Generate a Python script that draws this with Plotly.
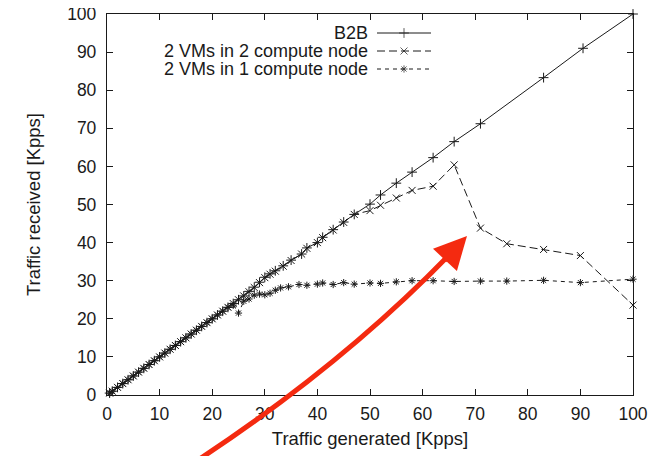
import plotly.graph_objects as go

# ---------------- data ----------------
b2b_x = [0.5, 1, 2, 3, 4, 5, 6, 7, 8, 9, 10, 11, 12, 13, 14, 15, 16, 17, 18, 19, 20,
         21, 22, 23, 24, 25, 26, 27, 28, 29, 30, 31, 32, 33.5, 35, 37, 38, 40, 41, 43,
         45, 47, 50, 52, 55, 58, 62, 66, 71, 83, 90.5, 100]
b2b_y = [0.5, 1, 2, 3, 4, 5, 6, 7, 8, 9, 10, 11, 12, 13, 14, 15, 16, 17, 18, 19, 20,
         21, 22, 23, 24, 25, 26, 27.2, 28.3, 29.6, 30.9, 31.8, 32.6, 33.9, 35.4, 37, 38.6,
         40, 41.4, 43.4, 45.4, 47.4, 50.1, 52.5, 55.6, 58.5, 62.3, 66.5, 71.2, 83.3, 91, 100]

two_node_x = [0.5, 1, 2, 3, 4, 5, 6, 7, 8, 9, 10, 11, 12, 13, 14, 15, 16, 17, 18, 19, 20,
              21, 22, 23, 24, 25, 26, 27, 28, 29, 30, 31, 32, 33.5, 35, 37, 38, 40, 41, 43,
              45, 47, 50, 52, 55, 58, 62, 66, 71, 76, 83, 90, 100]
two_node_y = [0.5, 1, 2, 3, 4, 5, 6, 7, 8, 9, 10, 11, 12, 13, 14, 15, 16, 17, 18, 19, 20,
              21, 22, 23, 24, 25, 26, 27.1, 28.2, 29.5, 30.8, 31.7, 32.5, 33.8, 35.3, 37, 38.5,
              40, 41.3, 43.3, 45.3, 47.4, 48.4, 49.8, 51.7, 53.7, 54.8, 60.4, 43.8, 39.7,
              38.2, 36.6, 23.6]

one_node_x = [0.5, 1, 2, 3, 4, 5, 6, 7, 8, 9, 10, 11, 12, 13, 14, 15, 16, 17, 18, 19, 20,
              21, 22, 23, 24, 25, 26, 27, 28, 29, 30, 31, 32, 33, 34.5, 36.5, 38, 40, 41,
              43, 45, 47, 50, 52, 55, 58, 62, 66, 71, 76, 83, 90, 100]
one_node_y = [0.5, 1, 2, 3, 4, 5, 6, 7, 8, 9, 10, 11, 12, 13, 14, 15, 16, 17, 18, 19, 20,
              21, 22, 23, 23.6, 21.5, 24.6, 25.2, 26.2, 26.5, 26.3, 26.7, 27.5, 28.1, 28.4,
              29.0, 28.8, 29.1, 29.4, 29.0, 29.5, 29.1, 29.4, 29.3, 29.7, 30.0, 30.0, 29.8,
              29.9, 29.9, 30.1, 29.5, 30.4]

series_names = ["B2B", "2 VMs in 2 compute node", "2 VMs in 1 compute node"]
axis_ticks = [0, 10, 20, 30, 40, 50, 60, 70, 80, 90, 100]

# ---------------- style ----------------
FONT = "Liberation Sans, Arial, sans-serif"
INK = "#1a1a1a"
OFF = 8                                  # page body margin of the html page
L, R, T, B = 107, 633, 14, 395           # plot area in screen pixels
W, H = 666 - OFF, 456 - OFF              # figure size so it fits the window

styles = [
    dict(dash="solid", symbol="cross-thin", size=7),
    dict(dash="8px,4px", symbol="x-thin", size=7),
    dict(dash="4px,4px", symbol="asterisk", size=6),
]

fig = go.Figure()
for (xs, ys), name, st in zip([(b2b_x, b2b_y), (two_node_x, two_node_y), (one_node_x, one_node_y)],
                              series_names, styles):
    fig.add_trace(go.Scatter(
        x=xs, y=ys, name=name, mode="lines+markers", showlegend=False,
        line=dict(color=INK, width=1, dash=st["dash"]),
        marker=dict(symbol=st["symbol"], size=st["size"], color=INK,
                    line=dict(color=INK, width=1)),
        cliponaxis=False,
    ))

# custom gnuplot-like key (text on the left, sample on the right), pixel axes
key_rows = [33, 51, 69]
key_text_right = 369
key_sample = [377, 404, 431]
for row, name, st in zip(key_rows, series_names, styles):
    fig.add_trace(go.Scatter(
        x=key_sample, y=[row] * 3, xaxis="x2", yaxis="y2", mode="lines+markers",
        showlegend=False, hoverinfo="skip",
        line=dict(color=INK, width=1, dash=st["dash"]),
        marker=dict(symbol=st["symbol"], size=[0, st["size"], 0], color=INK,
                    line=dict(color=INK, width=1)),
    ))
    fig.add_annotation(x=key_text_right, y=row, xref="x2", yref="y2", text=name,
                       showarrow=False, xanchor="right", yanchor="middle",
                       font=dict(family=FONT, size=18, color=INK), borderpad=0)


def px(xp):
    return (xp - L) / (R - L)


def py(yp):
    return (B - yp) / (B - T)


# red curved arrow (overlay annotation)
RED = "#f42a10"
p0 = (195, 462)
c1 = (343, 365)
p2 = (453, 251)
tip = (467, 236)
fig.add_shape(type="path", xref="paper", yref="paper",
              path=f"M {px(p0[0])},{py(p0[1])} Q {px(c1[0])},{py(c1[1])} {px(p2[0])},{py(p2[1])}",
              line=dict(color=RED, width=5))
fig.add_annotation(x=px(tip[0]), y=py(tip[1]), xref="paper", yref="paper",
                   ax=-24, ay=26, axref="pixel", ayref="pixel", text="",
                   showarrow=True, arrowhead=2, arrowsize=1.3, arrowwidth=5,
                   arrowcolor=RED, standoff=0)

axis_common = dict(
    range=[0, 100], tickmode="array", tickvals=axis_ticks,
    ticktext=[str(t) for t in axis_ticks], automargin=False,
    ticklabeloverflow="allow",
    showgrid=False, zeroline=False, showline=True, linecolor=INK, linewidth=1.3,
    mirror="allticks", ticks="inside", ticklen=6, tickwidth=1, tickcolor=INK,
    tickfont=dict(family=FONT, size=17.5, color=INK),
)

fig.update_layout(
    width=W, height=H, autosize=False,
    margin=dict(l=L - OFF, r=W - (R - OFF), t=T - OFF, b=H - (B - OFF), pad=0,
                autoexpand=False),
    paper_bgcolor="white", plot_bgcolor="white",
    showlegend=False,
    xaxis=dict(axis_common, ticklabelstandoff=3,
               title=dict(text="Traffic generated [Kpps]", standoff=8,
                          font=dict(family=FONT, size=18.5, color=INK))),
    yaxis=dict(axis_common, ticklabelstandoff=6,
               title=dict(text="Traffic received [Kpps]", standoff=21,
                          font=dict(family=FONT, size=18.5, color=INK))),
    xaxis2=dict(range=[L, R], overlaying="x", visible=False, fixedrange=True,
                automargin=False),
    yaxis2=dict(range=[B, T], overlaying="y", visible=False, fixedrange=True,
                automargin=False),
)

fig.write_html("out.html")
